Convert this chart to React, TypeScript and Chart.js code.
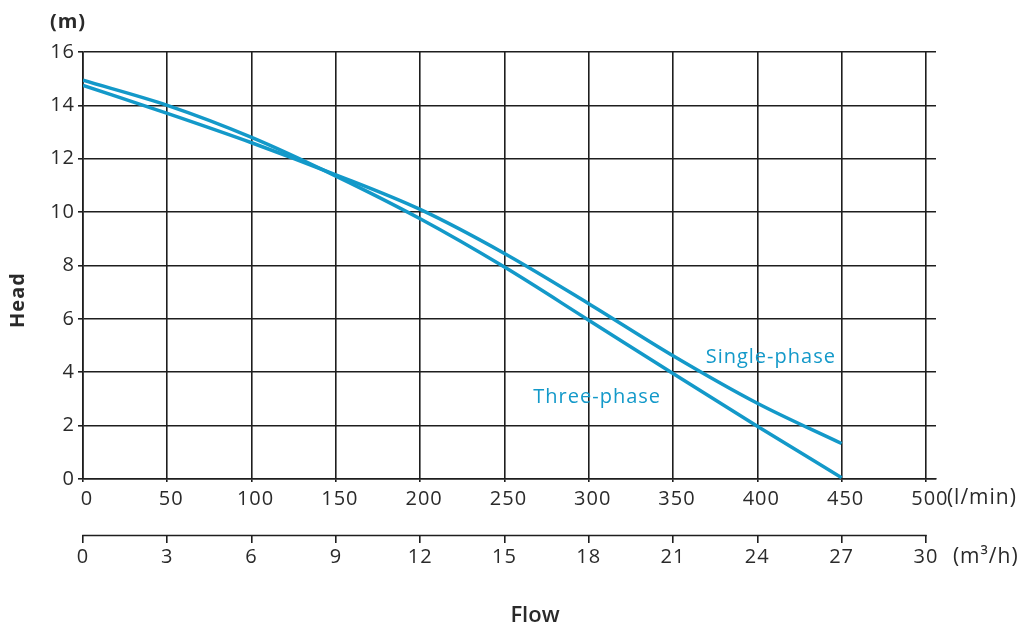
import React, { useEffect, useRef } from "react";
import { Chart, registerables } from "chart.js";

Chart.register(...registerables);

// ---- data ----
const flowLmin = [0, 50, 100, 150, 200, 250, 300, 350, 400, 450];
const singlePhaseHead = [14.75, 13.7, 12.6, 11.4, 10.1, 8.45, 6.57, 4.62, 2.84, 1.33];
const threePhaseHead = [14.94, 14.0, 12.8, 11.35, 9.75, 7.94, 5.95, 3.95, 1.98, 0.05];

const headTicks = [0, 2, 4, 6, 8, 10, 12, 14, 16];
const flowLminTicks = [0, 50, 100, 150, 200, 250, 300, 350, 400, 450, 500];
const flowM3hTicks = [0, 3, 6, 9, 12, 15, 18, 21, 24, 27, 30];

const seriesNames = ["Single-phase", "Three-phase"];
const seriesLabelAt = [
  { x: 408, y: 4.56 },
  { x: 305, y: 3.06 },
];

const BLUE = "#1399c9";
const GRID = "#1e1e1e";
const TEXT = "#2a2a2a";
const FONT = "'Open Sans', 'Noto Sans', sans-serif";

export default function App() {
  const ref = useRef<HTMLCanvasElement>(null);

  useEffect(() => {
    if (!ref.current) return;

    const textPlugin = {
      id: "textPlugin",
      beforeDraw(chart: any) {
        (chart.ctx as any).letterSpacing = "1px";
      },
      afterDraw(chart: any) {
        const ctx = chart.ctx as CanvasRenderingContext2D;
        const sx = chart.scales.x;
        const sy = chart.scales.y;
        const s2 = chart.scales.x2;
        ctx.save();
        (ctx as any).letterSpacing = "1px";

        // secondary axis line
        ctx.strokeStyle = GRID;
        ctx.lineWidth = 1.6;
        ctx.beginPath();
        ctx.moveTo(s2.getPixelForValue(flowM3hTicks[0]) - 0.8, Math.round(s2.top) + 0.5);
        ctx.lineTo(
          s2.getPixelForValue(flowM3hTicks[flowM3hTicks.length - 1]) + 0.8,
          Math.round(s2.top) + 0.5
        );
        ctx.stroke();

        ctx.fillStyle = TEXT;
        ctx.textBaseline = "middle";

        // (m)
        ctx.font = `700 20px ${FONT}`;
        ctx.textAlign = "center";
        ctx.fillText("(m)", 68, 22);

        // Head
        ctx.save();
        ctx.translate(18, 300);
        ctx.rotate(-Math.PI / 2);
        ctx.font = `700 20px ${FONT}`;
        ctx.fillText("Head", 0, 0);
        ctx.restore();

        // units
        ctx.font = `21px ${FONT}`;
        ctx.textAlign = "left";
        ctx.fillText("(l/min)", sx.getPixelForValue(500) + 21, 498);
        ctx.fillText("(m³/h)", s2.getPixelForValue(30) + 27, 557);

        // Flow
        ctx.font = `600 22px ${FONT}`;
        ctx.textAlign = "center";
        (ctx as any).letterSpacing = "0px";
        ctx.fillText("Flow", 535, 616);

        // series labels
        (ctx as any).letterSpacing = "1px";
        ctx.fillStyle = BLUE;
        ctx.font = `20px ${FONT}`;
        seriesNames.forEach((name, i) => {
          ctx.fillText(
            name,
            sx.getPixelForValue(seriesLabelAt[i].x),
            sy.getPixelForValue(seriesLabelAt[i].y)
          );
        });
        ctx.restore();
      },
    };

    const chart = new Chart(ref.current, {
      type: "line",
      data: {
        datasets: [
          {
            label: seriesNames[0],
            data: flowLmin.map((x, i) => ({ x, y: singlePhaseHead[i] })),
            borderColor: BLUE,
            borderWidth: 3.5,
            pointRadius: 0,
            cubicInterpolationMode: "monotone",
            fill: false,
          },
          {
            label: seriesNames[1],
            data: flowLmin.map((x, i) => ({ x, y: threePhaseHead[i] })),
            borderColor: BLUE,
            borderWidth: 3.5,
            pointRadius: 0,
            cubicInterpolationMode: "monotone",
            fill: false,
          },
        ],
      },
      options: {
        responsive: false,
        animation: false,
        layout: { padding: { top: 52, right: 96, bottom: 55, left: 0 } },
        plugins: {
          legend: { display: false },
          tooltip: { enabled: false },
        },
        scales: {
          x: {
            type: "linear",
            position: "bottom",
            min: 0,
            max: 506,
            afterBuildTicks: (s: any) => {
              s.ticks = flowLminTicks.map((v) => ({ value: v }));
            },
            afterFit: (s: any) => {
              s.height = 56;
            },
            grid: { color: GRID, lineWidth: 1.6, tickLength: 3 },
            border: { color: GRID, width: 1.6 },
            ticks: {
              color: TEXT,
              font: { family: FONT, size: 20 },
              padding: 5,
              labelOffset: 4,
              maxRotation: 0,
              autoSkip: false,
            },
          },
          x2: {
            type: "linear",
            position: "bottom",
            min: 0,
            max: 30.36,
            afterBuildTicks: (s: any) => {
              s.ticks = flowM3hTicks.map((v) => ({ value: v }));
            },
            afterFit: (s: any) => {
              s.height = 40;
            },
            grid: {
              color: GRID,
              lineWidth: 1.6,
              drawOnChartArea: false,
              drawTicks: true,
              tickLength: 8,
            },
            border: { display: false },
            ticks: {
              color: TEXT,
              font: { family: FONT, size: 20 },
              padding: 2,
              maxRotation: 0,
              autoSkip: false,
            },
          },
          y: {
            type: "linear",
            min: 0,
            max: 16,
            afterBuildTicks: (s: any) => {
              s.ticks = headTicks.map((v) => ({ value: v }));
            },
            afterFit: (s: any) => {
              s.width = 83;
            },
            grid: { color: GRID, lineWidth: 1.6, tickLength: 5 },
            border: { color: GRID, width: 1.6 },
            ticks: {
              color: TEXT,
              font: { family: FONT, size: 20 },
              padding: 3,
            },
          },
        },
      },
      plugins: [textPlugin],
    } as any);

    return () => chart.destroy();
  }, []);

  return (
    <div style={{ position: "fixed", left: 0, top: 0, width: 1032, height: 630, background: "#fff" }}>
      <canvas ref={ref} width={1032} height={630} />
    </div>
  );
}
